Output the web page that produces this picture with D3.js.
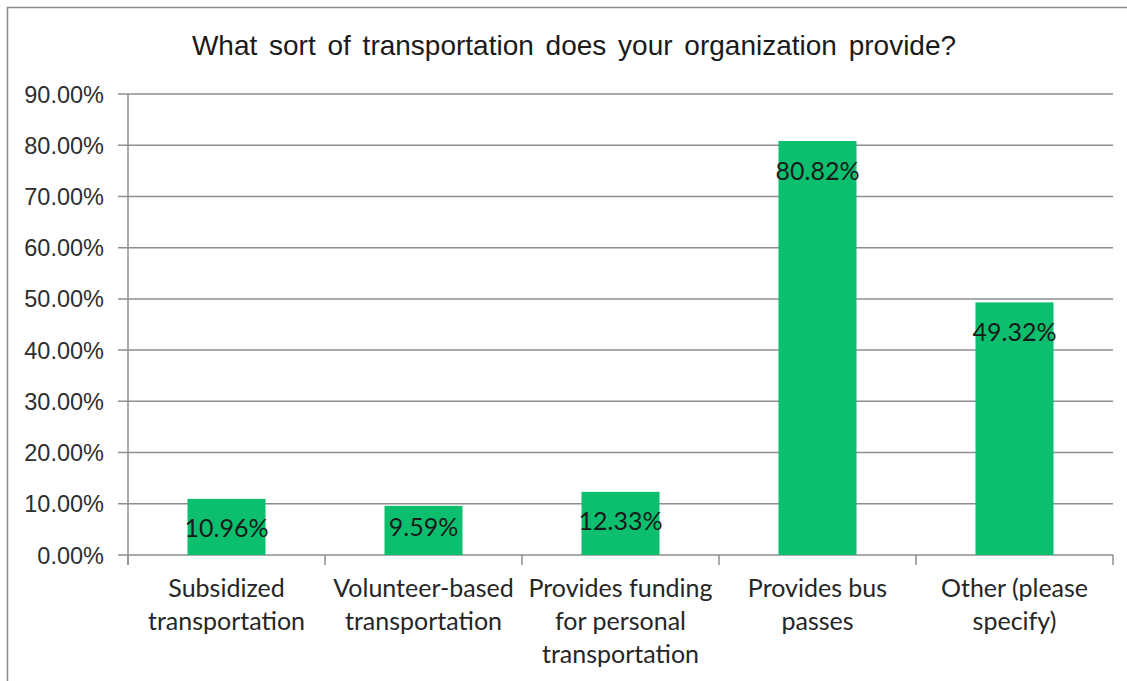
<!DOCTYPE html>
<html>
<head>
<meta charset="utf-8">
<script src="https://cdn.jsdelivr.net/npm/d3@7/dist/d3.min.js"></script>
<style>
  html, body { margin: 0; padding: 0; background: #fff; }
  svg { display: block; }
</style>
</head>
<body>
<svg id="chart" width="1127" height="681"></svg>
<script>
const categories = [
  ["Subsidized", "transportation"],
  ["Volunteer-based", "transportation"],
  ["Provides funding", "for personal", "transportation"],
  ["Provides bus", "passes"],
  ["Other (please", "specify)"]
];
const values = [0.1096, 0.0959, 0.1233, 0.8082, 0.4932];
const valueLabels = ["10.96%", "9.59%", "12.33%", "80.82%", "49.32%"];
const yTicks = [0, 0.1, 0.2, 0.3, 0.4, 0.5, 0.6, 0.7, 0.8, 0.9];
const title = "What sort of transportation does your organization provide?";

(function () {
const svg = d3.select("#chart");
const W = 1127, H = 681;
const pLeft = 128, pRight = 1113, pTop = 94, pBottom = 555;
const ids = categories.map((c, i) => i);

// frame
svg.append("rect").attr("x", 7.5).attr("y", 7.5).attr("width", W + 20).attr("height", H + 20)
  .attr("fill", "#fff").attr("stroke", "#8c8c8c").attr("stroke-width", 1.5);

const x = d3.scaleBand().domain(ids).range([pLeft, pRight]).paddingInner(0.604).paddingOuter(0.302);
const y = d3.scaleLinear().domain([0, 0.9]).range([pBottom, pTop]);

// gridlines
svg.append("g").selectAll("line").data(yTicks).join("line")
  .attr("x1", pLeft - 10).attr("x2", pRight)
  .attr("y1", d => y(d)).attr("y2", d => y(d))
  .attr("stroke", "#8e8e8e").attr("stroke-width", 1.5);

// y axis line
svg.append("line").attr("x1", pLeft).attr("x2", pLeft).attr("y1", pTop).attr("y2", pBottom + 10)
  .attr("stroke", "#8e8e8e").attr("stroke-width", 1.5);

// x tick marks
const step = x.step();
svg.append("g").selectAll("line").data(d3.range(categories.length + 1)).join("line")
  .attr("x1", d => pLeft + d * step).attr("x2", d => pLeft + d * step)
  .attr("y1", pBottom).attr("y2", pBottom + 10)
  .attr("stroke", "#8e8e8e").attr("stroke-width", 1.5);

// y tick labels
svg.append("g").selectAll("text").data(yTicks).join("text")
  .attr("x", 104).attr("y", d => y(d) + 8.5)
  .attr("text-anchor", "end")
  .attr("font-family", "Liberation Sans, Arial, sans-serif")
  .attr("font-size", 23.5).attr("fill", "#2e2e2e")
  .text(d => (d * 100).toFixed(2) + "%");

// bars
svg.append("g").selectAll("rect").data(values).join("rect")
  .attr("x", (d, i) => x(i)).attr("width", x.bandwidth())
  .attr("y", d => y(d)).attr("height", d => y(0) - y(d))
  .attr("fill", "#0bbf6e");

// value labels (inside end; centred when the bar is too short)
svg.append("g").selectAll("text").data(values).join("text")
  .attr("x", (d, i) => x(i) + x.bandwidth() / 2)
  .attr("y", d => (y(0) - y(d) < 52) ? (y(d) + y(0)) / 2 + 6 : y(d) + 38.5)
  .attr("text-anchor", "middle")
  .attr("font-family", "Lato, sans-serif")
  .attr("font-size", 25).attr("fill", "#1a1a1a")
  .text((d, i) => valueLabels[i]);

// category labels
const cg = svg.append("g").selectAll("text").data(categories).join("text")
  .attr("text-anchor", "middle")
  .attr("font-family", "Lato, sans-serif")
  .attr("font-size", 25).attr("fill", "#262626");
cg.each(function (lines, i) {
  d3.select(this).selectAll("tspan").data(lines).join("tspan")
    .attr("x", x(i) + x.bandwidth() / 2)
    .attr("y", (l, j) => 597 + j * 33)
    .text(l => l);
});

// title
svg.append("text").attr("x", 574).attr("y", 55).attr("text-anchor", "middle")
  .attr("font-family", "Liberation Sans, Arial, sans-serif")
  .attr("font-size", 28).attr("word-spacing", 4).attr("fill", "#1a1a1a")
  .text(title);
})();
</script>
</body>
</html>
